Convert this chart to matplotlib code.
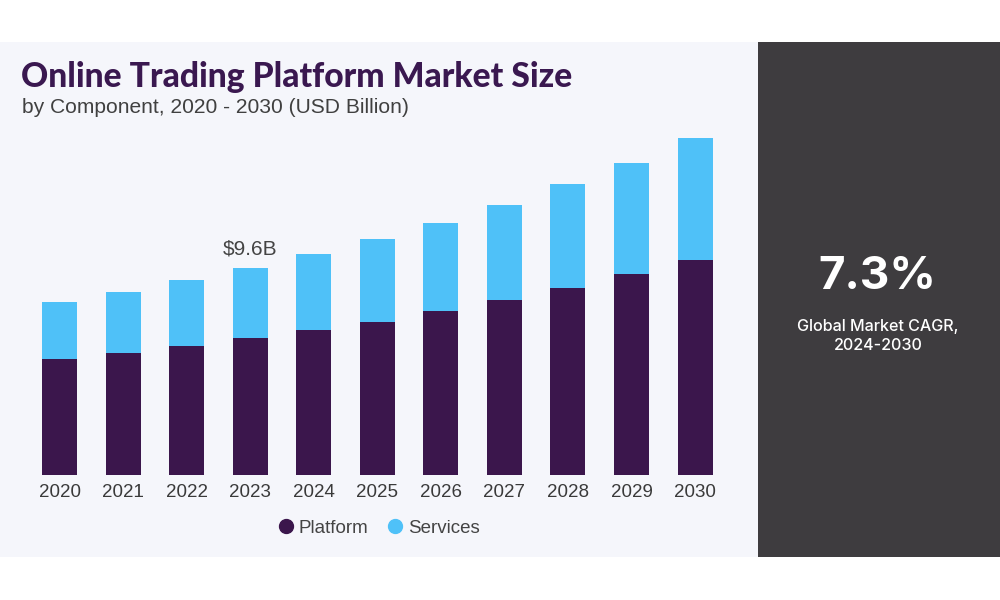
import matplotlib
matplotlib.use("Agg")
import matplotlib.pyplot as plt
from matplotlib.patches import Rectangle
from matplotlib.lines import Line2D
import numpy as np

years = ["2020", "2021", "2022", "2023", "2024", "2025", "2026", "2027", "2028", "2029", "2030"]
platform = [5.36, 5.67, 5.98, 6.34, 6.73, 7.12, 7.61, 8.12, 8.70, 9.32, 9.99]
services = [2.68, 2.84, 3.07, 3.26, 3.52, 3.83, 4.11, 4.44, 4.81, 5.20, 5.69]
annot_label = "$9.6B"
annot_year = "2023"
cagr_text = "7.3%"
cagr_caption = "Global Market CAGR,\n2024-2030"

PURPLE = "#3b164c"
BLUE = "#4fc1f8"
PANEL = "#f5f6fb"
DARK = "#3e3c3f"

fig = plt.figure(figsize=(10, 6), dpi=100)
fig.patch.set_facecolor("white")

W, H = 1000, 600
def fx(px): return px / W
def fy(py): return 1 - py / H

fig.add_artist(Rectangle((0, fy(557)), fx(758), fy(42) - fy(557),
                         transform=fig.transFigure, facecolor=PANEL, edgecolor="none", zorder=0))
fig.add_artist(Rectangle((fx(758), fy(557)), 1 - fx(758), fy(42) - fy(557),
                         transform=fig.transFigure, facecolor=DARK, edgecolor="none", zorder=0))

# axes placement: data x=0 -> 59.5px, x=10 -> 695px ; baseline at 474.5px
unit = (695 - 59.5) / 10
xl0, xl1 = -0.7, 10.7
left_px = 59.5 + xl0 * unit
right_px = 59.5 + xl1 * unit
ymax = 18.0
px_per_val = 206.2 / 9.6
base_px = 474.5
top_px = base_px - ymax * px_per_val
ax = fig.add_axes([fx(left_px), fy(base_px), fx(right_px - left_px), (base_px - top_px) / H])
ax.set_facecolor("none")
ax.set_xlim(xl0, xl1)
ax.set_ylim(0, ymax)

x = np.arange(len(years))
bw = 35 / unit
ax.bar(x, platform, width=bw, color=PURPLE, zorder=2)
ax.bar(x, services, width=bw, bottom=platform, color=BLUE, zorder=2)

for s in ax.spines.values():
    s.set_visible(False)
ax.set_yticks([])
ax.set_xticks(x)
ax.set_xticklabels(years, fontsize=13.5, color="#3a3a3a", family="Liberation Sans")
ax.tick_params(axis="x", length=0, pad=7)

i = years.index(annot_year)
ax.text(i, platform[i] + services[i] + 0.45, annot_label, ha="center", va="bottom",
        fontsize=15, color="#444444", family="Liberation Sans")

fig.text(fx(21), fy(77), "Online Trading Platform Market Size", ha="left", va="center",
         fontsize=24.2, fontweight="black", color="#3a1850", family="Lato")
fig.text(fx(22), fy(108), "by Component, 2020 - 2030 (USD Billion)", ha="left", va="center",
         fontsize=15.1, color="#404040", family="Liberation Sans")

handles = [Line2D([], [], marker="o", linestyle="none", markersize=10, markerfacecolor=PURPLE,
                  markeredgecolor=PURPLE),
           Line2D([], [], marker="o", linestyle="none", markersize=10, markerfacecolor=BLUE,
                  markeredgecolor=BLUE)]
fig.legend(handles, ["Platform", "Services"], loc="center", bbox_to_anchor=(fx(378), fy(528)),
           ncol=2, frameon=False, prop={"family": "Liberation Sans", "size": 13.5},
           labelcolor="#444444", handletextpad=0.2, columnspacing=0.9, handlelength=1.0)

fig.text(fx(877), fy(277), cagr_text, ha="center", va="center", fontsize=33,
         fontweight="bold", color="white", family="Inter")
fig.text(fx(878), fy(336), cagr_caption, ha="center", va="center", fontsize=11.6,
         fontweight="medium", color="white", family="Inter", linespacing=1.3)

fig.savefig("out.png", dpi=100)
